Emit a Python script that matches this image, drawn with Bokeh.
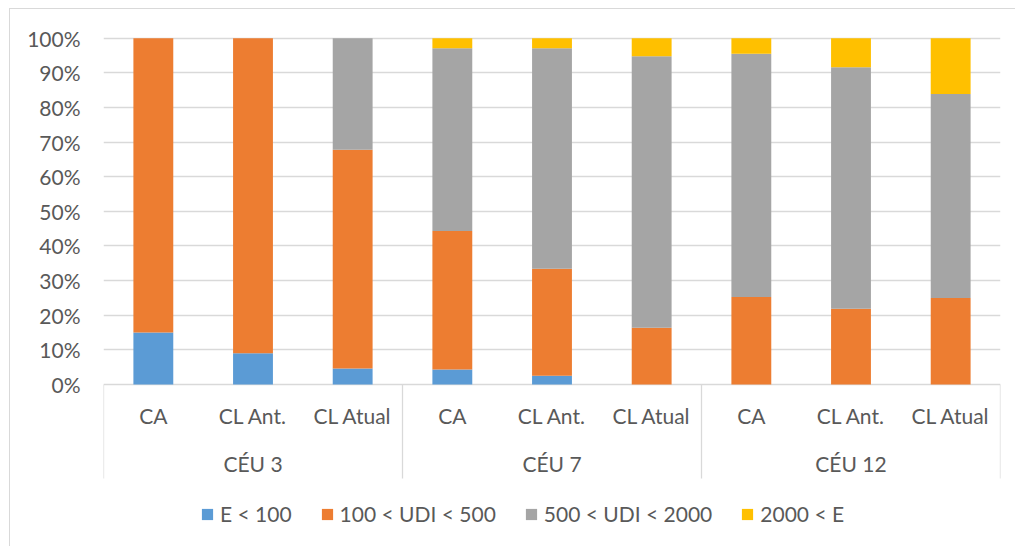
from bokeh.plotting import figure
from bokeh.models import (FactorRange, Range1d, FixedTicker, PrintfTickFormatter,
                          ColumnDataSource, Legend, LegendItem)
from bokeh.core.properties import value
from bokeh.embed import file_html
from bokeh.resources import INLINE

# ---- data ----
groups = ["CÉU 3", "CÉU 7", "CÉU 12"]
subcats = ["CA", "CL Ant.", "CL Atual"]
series_names = ["E < 100", "100 < UDI < 500", "500 < UDI < 2000", "2000 < E"]
e_lt_100 = [15.0, 9.0, 4.6, 4.3, 2.5, 0.0, 0.0, 0.0, 0.0]
udi_100_500 = [85.0, 91.0, 63.2, 40.0, 30.9, 16.4, 25.3, 21.9, 25.0]
udi_500_2000 = [0.0, 0.0, 32.2, 52.8, 63.7, 78.4, 70.2, 69.7, 58.9]
e_gt_2000 = [0.0, 0.0, 0.0, 2.9, 2.9, 5.2, 4.5, 8.4, 16.1]
y_ticks = [0, 10, 20, 30, 40, 50, 60, 70, 80, 90, 100]

colors = ["#5B9BD5", "#ED7D31", "#A5A5A5", "#FFC000"]
txt = "#595959"
grid = "#D9D9D9"
FONT = "Lato"
FS = "21px"

factors = [(g, s) for g in groups for s in subcats]
keys = ["s0", "s1", "s2", "s3"]
src = ColumnDataSource(dict(x=factors, s0=e_lt_100, s1=udi_100_500,
                            s2=udi_500_2000, s3=e_gt_2000))

# pixel geometry helpers (layout only)
px_per_unit = 3.463
zero_px = 384.0
top_px = 37.7
canvas_top = 9
frame_top = 30
frame_bottom = 547
y_end = 100 + (top_px - frame_top) / px_per_unit
y_start = -(frame_bottom - zero_px) / px_per_unit

xr = FactorRange(*factors, range_padding=0, group_padding=0, factor_padding=0)
p = figure(x_range=xr, y_range=Range1d(y_start, y_end),
           width=1006, height=538, output_backend="svg", toolbar_location=None,
           min_border_left=93, min_border_right=16, min_border_top=frame_top - canvas_top,
           min_border_bottom=0)
p.margin = (8, 0, 0, 9)
p.styles = {"border-left": "1px solid #D9D9D9", "border-top": "1px solid #D9D9D9"}
p.outline_line_color = None
p.background_fill_color = "white"
p.border_fill_color = "white"

renderers = p.vbar_stack(keys, x="x", width=0.4, source=src, color=colors,
                         line_color=None)

# axes
p.xaxis.visible = False
p.xgrid.visible = False
p.yaxis.ticker = FixedTicker(ticks=y_ticks)
p.yaxis.formatter = PrintfTickFormatter(format="%d%%")
p.yaxis.axis_line_color = None
p.yaxis.major_tick_line_color = None
p.yaxis.minor_tick_line_color = None
p.yaxis.major_tick_out = 0
p.yaxis.major_label_standoff = 23
p.yaxis.major_label_text_font = FONT
p.yaxis.major_label_text_font_size = FS
p.yaxis.major_label_text_color = txt
p.ygrid.ticker = FixedTicker(ticks=y_ticks)
p.ygrid.grid_line_color = grid
p.ygrid.grid_line_width = 1.3

# category axis drawn inside the frame: separators at group edges
half = len(subcats) / 2
sep_x = [[g, -half] for g in groups] + [[groups[-1], half]]
sep_bottom = -(478 - zero_px) / px_per_unit
sep_src = ColumnDataSource(dict(x=sep_x, y0=[0] * len(sep_x), y1=[sep_bottom] * len(sep_x)))
p.segment(x0="x", x1="x", y0="y0", y1="y1", source=sep_src,
          line_color=grid, line_width=1.3)

sub_y = -(415 - zero_px) / px_per_unit
grp_y = -(463 - zero_px) / px_per_unit
p.text(x=factors, y=[sub_y] * len(factors), text=[f[1] for f in factors],
       text_align="center", text_baseline="middle", text_color=txt,
       text_font=value(FONT), text_font_size=FS)
p.text(x=groups, y=[grp_y] * len(groups), text=groups,
       text_align="center", text_baseline="middle", text_color=txt,
       text_font=value(FONT), text_font_size=FS)

legend = Legend(items=[LegendItem(label=n, renderers=[r]) for n, r in zip(series_names, renderers)],
                orientation="horizontal", location=(97, 21),
                label_text_font=FONT, label_text_font_size=FS, label_text_color=txt,
                glyph_width=14, glyph_height=14, label_standoff=6, spacing=28,
                padding=0, margin=0, border_line_color=None, background_fill_alpha=0)
p.add_layout(legend, "center")

open("out.html", "w").write(file_html(p, INLINE))
